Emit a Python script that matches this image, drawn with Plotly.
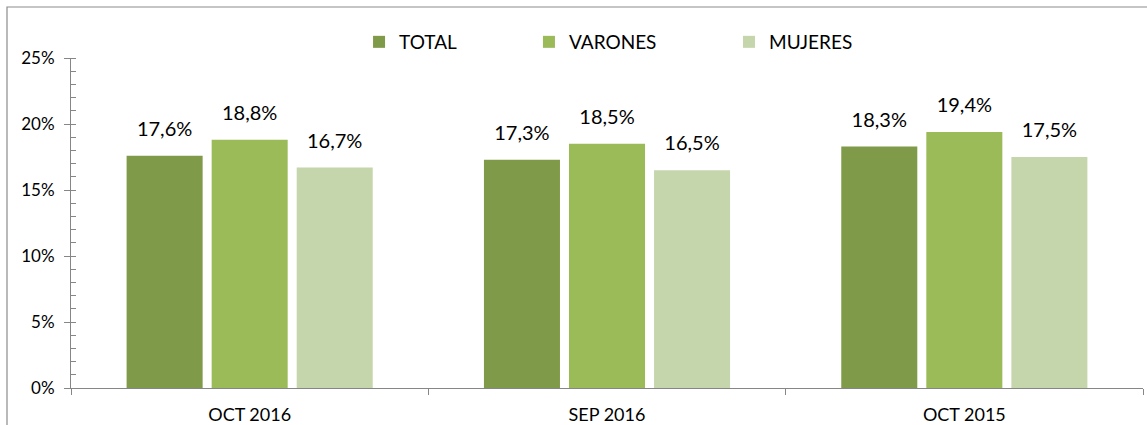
import plotly.graph_objects as go

categories = ["OCT 2016", "SEP 2016", "OCT 2015"]
series_names = ["TOTAL", "VARONES", "MUJERES"]
total = [17.6, 17.3, 18.3]
varones = [18.8, 18.5, 19.4]
mujeres = [16.7, 16.5, 17.5]
y_ticks = [0, 5, 10, 15, 20, 25]
y_tick_labels = ["0%", "5%", "10%", "15%", "20%", "25%"]

colors = ["#7F9A48", "#9BBB59", "#C6D6AC"]
legend_ids = ["legend", "legend2", "legend3"]
axis_gray = "#868686"
FONT = "Lato"

fig = go.Figure()
for name, vals, col, lg in zip(series_names, [total, varones, mujeres], colors, legend_ids):
    fig.add_trace(go.Bar(
        x=categories, y=vals, name=name, legend=lg,
        marker=dict(color=col, line=dict(width=0)),
    ))
for name, vals in zip(series_names, [total, varones, mujeres]):
    fig.add_trace(go.Scatter(
        x=categories, y=vals, mode="markers+text", showlegend=False,
        marker=dict(size=22, opacity=0),
        text=[f"{v:.1f}%".replace(".", ",") for v in vals],
        textposition="top center",
        textfont=dict(family=FONT, size=20, color="#000000"),
        hoverinfo="skip",
    ))

legend_common = dict(orientation="h", yanchor="middle", y=1.0485, xanchor="left",
                     font=dict(family=FONT, size=19, color="#000000"),
                     bgcolor="rgba(0,0,0,0)", itemwidth=30)
fig.update_layout(
    width=1147, height=425,
    margin=dict(l=71, r=4, t=58, b=37, autoexpand=False),
    paper_bgcolor="white", plot_bgcolor="white",
    barmode="group", bargap=0.286, bargroupgap=0.106,
    scattermode="group", scattergap=0.286,
    separators=",.",
    legend=dict(x=0.2687, **legend_common),
    legend2=dict(x=0.4272, **legend_common),
    legend3=dict(x=0.6138, **legend_common),
    xaxis=dict(
        type="category", showline=True, linecolor=axis_gray, linewidth=1,
        ticks="outside", tickson="boundaries", ticklen=6, tickcolor=axis_gray,
        tickfont=dict(family=FONT, size=18, color="#000000"),
        ticklabelstandoff=10, automargin=False,
        showgrid=False, zeroline=False,
    ),
    yaxis=dict(
        range=[0, 25], tickvals=y_ticks, ticktext=y_tick_labels,
        showline=True, linecolor=axis_gray, linewidth=1,
        ticks="outside", ticklen=6, tickcolor=axis_gray,
        minor=dict(ticks="inside", ticklen=5, dtick=1, tickcolor=axis_gray, showgrid=False),
        tickfont=dict(family=FONT, size=17, color="#000000"),
        ticklabelstandoff=6, automargin=False,
        showgrid=False, zeroline=False,
    ),
    yaxis2=dict(
        range=[0, 25], overlaying="y", side="left", tickvals=y_ticks,
        ticks="inside", ticklen=5, tickcolor=axis_gray, showticklabels=False,
        showline=False, showgrid=False, zeroline=False,
    ),
    shapes=[dict(type="rect", xref="paper", yref="paper",
                 x0=(7 - 71) / 1072, x1=1.05, y0=-0.3, y1=(388 - 7) / 330,
                 line=dict(color="#8C8C8C", width=1.2), layer="below")],
)
fig.write_html("out.html")
